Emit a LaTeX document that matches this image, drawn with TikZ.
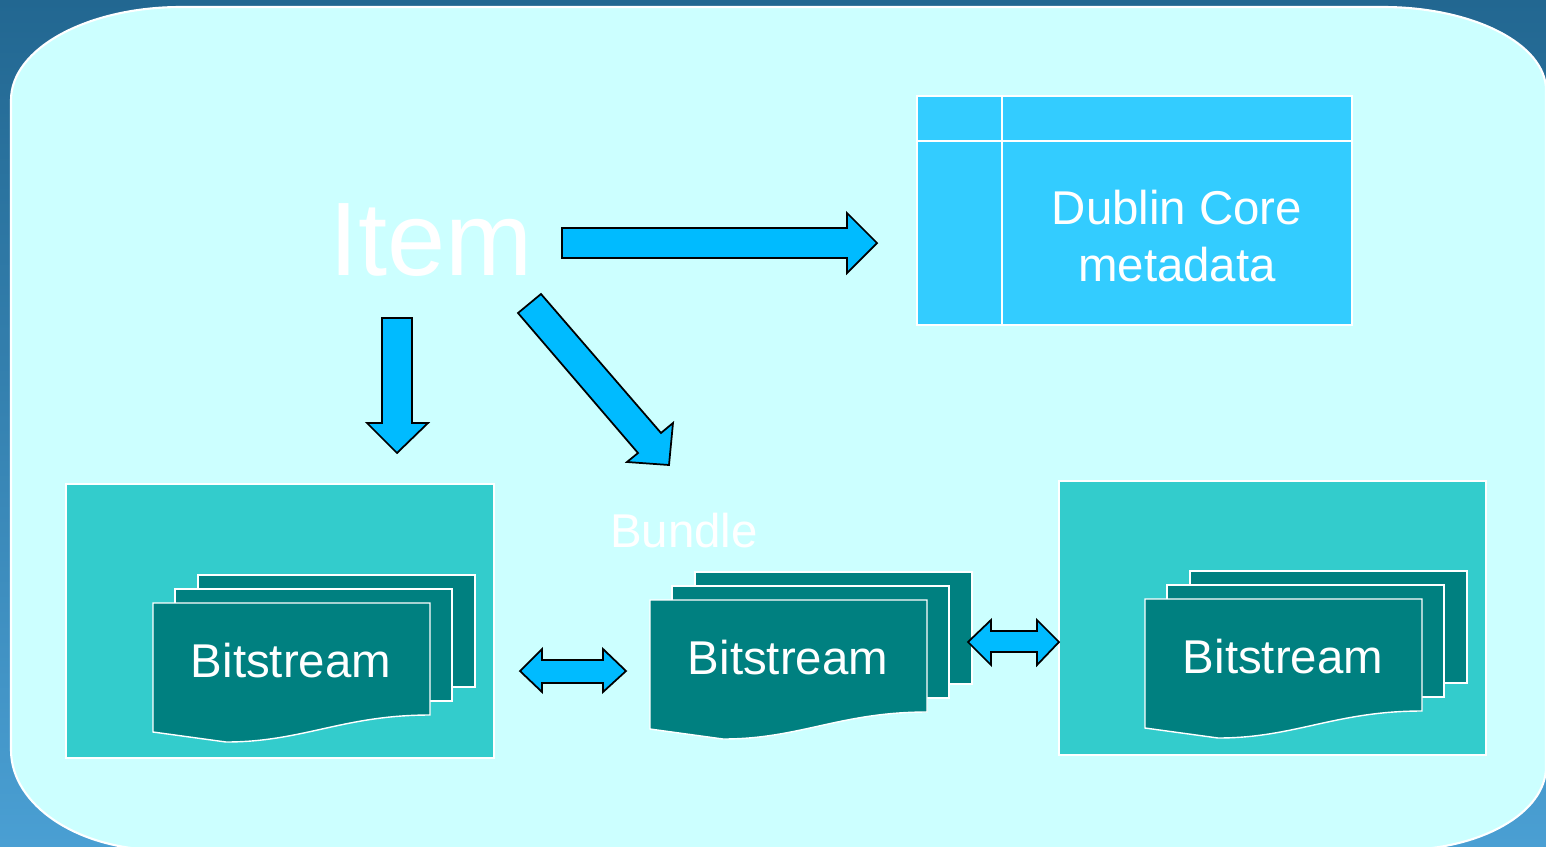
\documentclass[tikz,border=0pt]{standalone}
\usepackage{fontspec}
\setmainfont{Liberation Sans}
\usetikzlibrary{positioning}

\definecolor{skytop}{HTML}{226791}
\definecolor{skybottom}{HTML}{4A9FD3}
\definecolor{panelcyan}{HTML}{CCFFFF}
\definecolor{arrowblue}{HTML}{00BBFF}
\definecolor{tablecyan}{HTML}{33CCFF}
\definecolor{boxteal}{HTML}{33CCCC}
\definecolor{sheetteal}{HTML}{008080}

\tikzset{
  blockarrow/.style={fill=arrowblue, draw=black, line width=1pt, line join=miter},
  whiteedge/.style={draw=white, line width=0.8pt},
  sheet/.style={whiteedge, fill=sheetteal},
  labeltext/.style={text=white, inner sep=0pt, font=\fontsize{27}{32.5}\selectfont},
  pics/bitstack/.style={code={
    \filldraw[sheet] (45,-28) rectangle ++(277,112);
    \filldraw[sheet] (22,-14) rectangle ++(277,112);
    \filldraw[sheet] (0,0) -- (277,0) -- (277,112)
      .. controls (190,112) and (150,139) .. (73,139) -- (0,129) -- cycle;
    \node[labeltext] (-label) at (138,58) {Bitstream};
  }}
}

\begin{document}
\begin{tikzpicture}[x=0.02cm, y=-0.02cm]

% Page: blue gradient backdrop
\clip (0,0) rectangle (1546,846);
\shade[top color=skytop, bottom color=skybottom] (0,0) rectangle (1546,846);

% Rounded cyan panel
\filldraw[fill=panelcyan, draw=white, line width=1.2pt]
  (11,100) arc[start angle=180, end angle=270, x radius=170, y radius=93]
  -- (1383,7) arc[start angle=270, end angle=360, x radius=163, y radius=83]
  -- (1546,767) arc[start angle=0, end angle=90, x radius=146, y radius=83]
  -- (161,850) arc[start angle=90, end angle=180, x radius=150, y radius=100]
  -- cycle;

% Item
\node[text=white, inner sep=0pt, font=\fontsize{59.5}{70}\selectfont] (item) at (431,240) {Item};

% Dublin Core table
\filldraw[whiteedge, fill=tablecyan] (917,96) rectangle (1352,325);
\draw[whiteedge] (1002,96) -- (1002,325);
\draw[whiteedge] (917,141) -- (1352,141);
\node[labeltext, align=center] (dublin) at (1177,236) {Dublin Core\\metadata};

% Arrows out of the item
\filldraw[blockarrow] (562,228) -- (847,228) -- (847,213) -- (877,243)
  -- (847,273) -- (847,258) -- (562,258) -- cycle;
\filldraw[blockarrow] (382,318) -- (412,318) -- (412,423) -- (428,423)
  -- (397,453) -- (367,423) -- (382,423) -- cycle;
\filldraw[blockarrow] (518,313) -- (541,294) -- (661,433) -- (673,423)
  -- (669,465) -- (627,462) -- (638,453) -- cycle;

% Bundle label
\node[labeltext] (bundle) at (684,531) {Bundle};

% Teal boxes
\filldraw[whiteedge, fill=boxteal] (66,484) rectangle (494,758);
\filldraw[whiteedge, fill=boxteal] (1059,481) rectangle (1486,755);

% Bitstream stacks
\pic (leftstack) at (153,603) {bitstack};
\pic (midstack) at (650,600) {bitstack};
\pic (rightstack) at (1145,599) {bitstack};

% Double arrows between the stacks
\filldraw[blockarrow] (520,671) -- (542,649) -- (542,660) -- (603,660) -- (603,649)
  -- (626,671) -- (603,692) -- (603,683) -- (542,683) -- (542,692) -- cycle;
\filldraw[blockarrow] (968,642) -- (991,620) -- (991,631) -- (1037,631) -- (1037,620)
  -- (1059,642) -- (1037,665) -- (1037,652) -- (991,652) -- (991,665) -- cycle;

\end{tikzpicture}
\end{document}
